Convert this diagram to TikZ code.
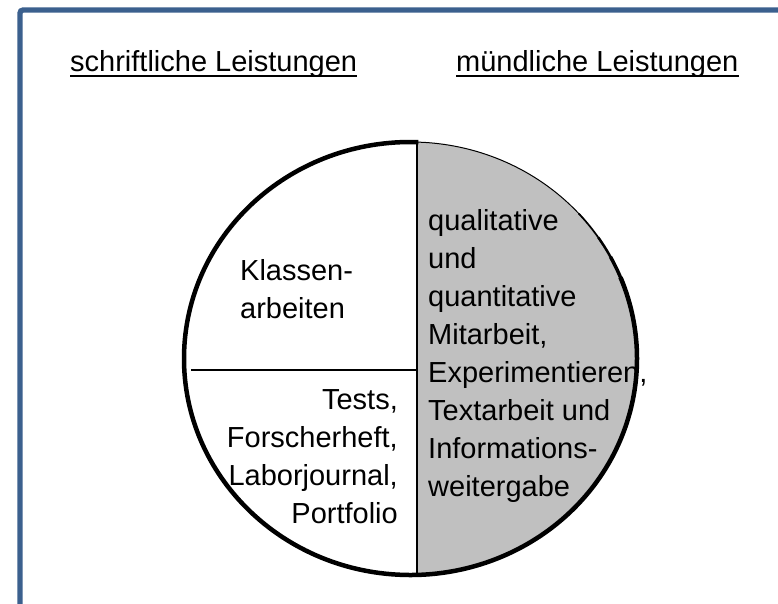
\documentclass[tikz,border=0pt]{standalone}
\usepackage{fontspec}
\setmainfont{Liberation Sans}
\definecolor{framecol}{RGB}{59,96,142}
\definecolor{fillgray}{RGB}{192,192,192}
\begin{document}
\begin{tikzpicture}[x=1pt,y=-1pt,
  txt/.style={inner sep=0pt, font=\fontsize{29}{38}\selectfont},
  uline/.style={line width=2pt},
  rimthick/.style={line width=4.5pt},
  rimthin/.style={line width=1pt},
  divider/.style={line width=2.2pt}]
\useasboundingbox (0,0) rectangle (778,603);
\clip (0,0) rectangle (778,603);
% frame
\draw[framecol, line width=5.3pt, rounded corners=3pt] (20,10) rectangle (800,640);
% headers
\node[txt, anchor=base west] (hs) at (70,71) {schriftliche Leistungen};
\node[txt, anchor=base west] (hm) at (456,71) {mündliche Leistungen};
\draw[uline] ([yshift=-5pt]hs.base west) -- ([yshift=-5pt]hs.base east);
\draw[uline] ([yshift=-5pt]hm.base west) -- ([yshift=-5pt]hm.base east);
% pie
\coordinate (c) at (410.5,358.5);
\begin{scope}
  \clip (c) ellipse [x radius=226.5pt, y radius=216.5pt];
  \fill[fillgray] (417,100) rectangle (700,620);
\end{scope}
\draw[rimthick] (c) ++(88:226.5pt and 216.5pt)
  arc[start angle=88, end angle=382, x radius=226.5pt, y radius=216.5pt];
\draw[line width=3.5pt] (c) ++(20:226.5pt and 216.5pt)
  arc[start angle=20, end angle=28, x radius=226.5pt, y radius=216.5pt];
\draw[line width=2.5pt] (c) ++(26:226.5pt and 216.5pt)
  arc[start angle=26, end angle=34, x radius=226.5pt, y radius=216.5pt];
\draw[line width=1.7pt] (c) ++(32:226.5pt and 216.5pt)
  arc[start angle=32, end angle=42, x radius=226.5pt, y radius=216.5pt];
\draw[rimthin] (c) ++(40:226.5pt and 216.5pt)
  arc[start angle=40, end angle=90, x radius=226.5pt, y radius=216.5pt];
\coordinate (vt) at (417,141);
\coordinate (vb) at (417,576);
\coordinate (hl) at (191,370);
\draw[divider] (vt) -- (vb);
\draw[divider] (hl) -- (vt |- hl);
% texts (base anchor = last line's baseline)
\node[txt, anchor=base west, align=left] (kl) at (240,318) {Klassen-\\arbeiten};
\node[txt, anchor=base east, align=right] (te) at (398,523) {Tests,\\Forscherheft,\\Laborjournal,\\Portfolio};
\node[txt, anchor=base west, align=left] (mu) at (428,496) {qualitative\\und\\quantitative\\Mitarbeit,\\Experimentieren,\\Textarbeit und\\Informations-\\weitergabe};
\end{tikzpicture}
\end{document}
